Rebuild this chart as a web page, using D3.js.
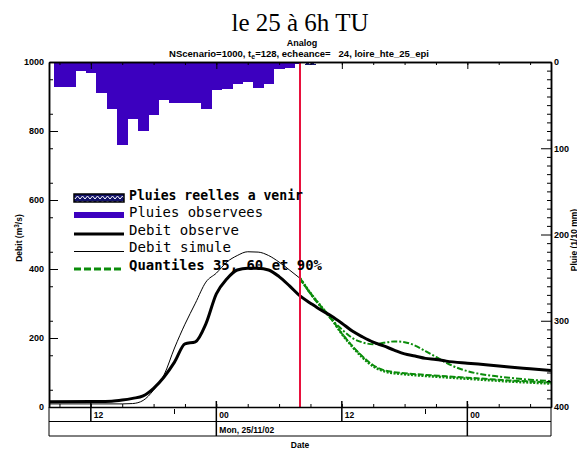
<!DOCTYPE html>
<html><head><meta charset="utf-8">
<script src="https://cdn.jsdelivr.net/npm/d3@7"></script>
<style>
body{margin:0;background:#fff}
svg{display:block}
text{font-family:"Liberation Sans",Arial,sans-serif}
.ax text{font-family:"Liberation Sans",Arial,sans-serif;font-weight:bold;font-size:9px;fill:#000}
.ax path,.ax line{stroke:#000}
</style>
</head><body>
<svg id="c" width="577" height="452"></svg>
<script>
// ---- data (time in hours since 24/11/02 00h) ----
const forecastHour = 32;
const rainHours  = [9,10,11,12,13,14,15,16,17,18,19,20,21,22,23,24,25,26,27,28,29,30,31,32];
const rainValues = [29,29,10,13,36,54,96,66,80,62,44,47,48,48,55,33,31,25,23,30,25,8,7,2];
const futureHours  = [33,55];
const futureValues = [3,1];
const obsHours  = [8,12,14,15,16,17,18,19,20,21,22,23,24,25,26,27,28,29,30,31,32,33,34,35,36,37,38,39,40,41,42,43,44,45,46,48,50,52,54,56];
const obsValues = [15,16,17,20,25,32,54,87,130,183,189,241,328,371,397,402,402,397,378,351,322,301,281,264,243,220,203,188,177,165,154,148,141,138,133,127,122,116,111,106];
const simHours  = [8,15,16,17,18,19,20,21,22,23,24,25,26,27,28,29,30,31,32];
const simValues = [9,9,10,19,49,93,171,240,301,362,388,420,439,450,449,439,420,397,373];
const q90Hours  = [32,33,34,35,36,37,38,39,40,41,42,43,44,45,46,47,48,50,52,54,56];
const q90Values = [373,328,290,254,225,200,187,182,186,190,188,178,162,145,128,114,104,92,85,79,75];
const qLowHours = [32,33,34,35,36,37,38,39,40,41,42,44,46,48,50,52,54,56];
const q35Values = [373,330,292,256,212,175,143,118,104,98,95,90,86,82,78,74,71,68];
const q60Values = [373,330,292,256,213,177,146,121,107,101,98,93,89,85,81,77,74,71];
const debitTicks = [0,200,400,600,800,1000];
const pluieTicks = [0,100,200,300,400];
const majorHours = [12,24,36,48];
const majorLabels = ["12","00","12","00"];
const dayHours = [24,48];
const dayLabel = "Mon, 25/11/02";
const midHours = [20,44];
const legendLabels = ["Pluies reelles a venir","Pluies observees","Debit observe","Debit simule","Quantiles 35, 60 et 90%"];

// ---- layout ----
const L=49,R=551,T=62,B=407;
const x  = d3.scaleLinear().domain([8,56]).range([L,R]);
const yL = d3.scaleLinear().domain([0,1000]).range([B,T]);
const yR = d3.scaleLinear().domain([0,400]).range([T,B]);
const svg = d3.select('#c');

svg.append('defs').html(`
 <clipPath id="clip"><rect x="${L}" y="${T}" width="${R-L}" height="${B-T}"/></clipPath>
 <pattern id="hatch" width="5" height="5" patternUnits="userSpaceOnUse">
   <rect width="5" height="5" fill="#14146a"/>
   <path d="M0,4 L2.5,1 L5,4" stroke="#fff" stroke-width="1" fill="none"/>
 </pattern>`);

// titles
svg.append('text').attr('x',300).attr('y',31).attr('text-anchor','middle')
  .style('font-family','"Liberation Serif","Times New Roman",serif').style('font-size','25px').text('le 25 à 6h TU');
svg.append('text').attr('x',302).attr('y',46).attr('text-anchor','middle')
  .style('font-weight','bold').style('font-size','9px').text('Analog');
const st = svg.append('text').attr('x',299).attr('y',56.5).attr('text-anchor','middle')
  .style('font-weight','bold').style('font-size','9.5px').style('white-space','pre');
st.append('tspan').text('NScenario=1000, t');
st.append('tspan').attr('dy',2).style('font-size','7px').text('e');
st.append('tspan').attr('dy',-2).text('=128, echeance=   24, loire_hte_25_epi');

// rain bars (hang from top, right axis)
const pg = svg.append('g').attr('clip-path','url(#clip)').attr('shape-rendering','crispEdges');
pg.selectAll('rect.r').data(rainHours.map((h,i)=>({h,v:rainValues[i]}))).join('rect')
  .attr('x',d=>x(d.h-0.5)).attr('width',d=>Math.min(x(d.h+0.5),x(forecastHour))-x(d.h-0.5)+0.5)
  .attr('y',T).attr('height',d=>yR(d.v)-T).attr('fill','#3c00bf');
pg.selectAll('rect.f').data(futureHours.map((h,i)=>({h,v:futureValues[i]}))).join('rect')
  .attr('x',d=>x(d.h-0.5)).attr('width',d=>x(d.h+0.5)-x(d.h-0.5))
  .attr('y',T).attr('height',d=>yR(d.v)-T).attr('fill','url(#hatch)');

// curves
const cg = svg.append('g').attr('clip-path','url(#clip)').attr('fill','none');
const line = (hs,vs)=>d3.line().x((d,i)=>x(hs[i])).y(d=>yL(d)).curve(d3.curveMonotoneX)(vs);
cg.append('path').attr('d',line(qLowHours,q35Values)).attr('stroke','#0a8c0a').attr('stroke-width',2.6).attr('stroke-dasharray','2,1.5');
cg.append('path').attr('d',line(qLowHours,q60Values)).attr('stroke','#0a8c0a').attr('stroke-width',2).attr('stroke-dasharray','6,2');
cg.append('path').attr('d',line(q90Hours,q90Values)).attr('stroke','#0a8c0a').attr('stroke-width',2).attr('stroke-dasharray','6,2,2,2');
cg.append('path').attr('d',line(simHours,simValues)).attr('stroke','#000').attr('stroke-width',1);
cg.append('path').attr('d',line(obsHours,obsValues)).attr('stroke','#000').attr('stroke-width',3);

// forecast line
svg.append('line').attr('x1',x(forecastHour)).attr('x2',x(forecastHour)).attr('y1',T).attr('y2',B)
  .attr('stroke','#e8103c').attr('stroke-width',2);

// left axis
const ga = svg.append('g').attr('class','ax').attr('transform',`translate(${L},0)`);
ga.call(d3.axisLeft(yL).tickValues(debitTicks).tickSizeInner(-9).tickSizeOuter(0).tickPadding(5).tickFormat(d3.format('d')));
svg.append('g').attr('class','ax').attr('transform',`translate(${L},0)`)
  .call(d3.axisLeft(yL).tickValues(d3.range(50,1000,100)).tickSizeInner(-4).tickSizeOuter(0).tickFormat(''));
// right axis
svg.append('g').attr('class','ax').attr('transform',`translate(${R},0)`)
  .call(d3.axisRight(yR).tickValues(pluieTicks).tickSizeInner(-10).tickSizeOuter(0).tickPadding(3).tickFormat(d3.format('d')));
svg.append('g').attr('class','ax').attr('transform',`translate(${R},0)`)
  .call(d3.axisRight(yR).tickValues(d3.range(10,400,10).filter(v=>v%100)).tickSizeInner(-4).tickSizeOuter(0).tickFormat(''));
svg.selectAll('.ax .domain').attr('stroke-width',1.2);

// top & bottom time axes
const minorHours = d3.range(9,56,3);
svg.append('g').attr('class','ax').attr('transform',`translate(0,${T})`)
  .call(d3.axisBottom(x).tickValues(minorHours).tickSizeInner(3).tickSizeOuter(0).tickFormat(''));
svg.append('g').attr('class','ax').attr('transform',`translate(0,${T})`)
  .call(d3.axisBottom(x).tickValues(majorHours).tickSizeInner(7).tickSizeOuter(0).tickFormat(''));
svg.append('g').attr('class','ax').attr('transform',`translate(0,${B})`)
  .call(d3.axisTop(x).tickValues(minorHours).tickSizeInner(3).tickSizeOuter(0).tickFormat(''));
svg.selectAll('.ax .domain').attr('stroke-width',1.5);

const fg = svg.append('g').attr('stroke','#000').attr('stroke-width',1);
fg.selectAll('line.mj').data(majorHours).join('line')
  .attr('x1',d=>x(d)).attr('x2',d=>x(d)).attr('y1',B-6)
  .attr('y2',d=>dayHours.includes(d)?436:421.5).attr('stroke-width',1.5);
fg.selectAll('line.md').data(midHours).join('line')
  .attr('x1',d=>x(d)).attr('x2',d=>x(d)).attr('y1',409).attr('y2',414);
fg.append('line').attr('x1',L).attr('x2',R).attr('y1',421.5).attr('y2',421.5);
fg.append('line').attr('x1',L).attr('x2',R).attr('y1',436).attr('y2',436);
fg.append('line').attr('x1',L).attr('x2',L).attr('y1',B).attr('y2',436);
fg.append('line').attr('x1',R).attr('x2',R).attr('y1',B).attr('y2',436);

svg.selectAll('text.xl').data(majorHours).join('text')
  .attr('x',d=>x(d)+3).attr('y',418).style('font-weight','bold').style('font-size','8.5px')
  .text((d,i)=>majorLabels[i]);
svg.append('text').attr('x',x(dayHours[0])+3).attr('y',432.5).style('font-weight','bold').style('font-size','8.5px').text(dayLabel);
svg.append('text').attr('x',300).attr('y',448).attr('text-anchor','middle').style('font-weight','bold').style('font-size','8.5px').text('Date');

// axis titles
const dl = svg.append('text').attr('transform','translate(22,238) rotate(-90)').attr('text-anchor','middle')
  .style('font-weight','bold').style('font-size','8.5px');
dl.append('tspan').text('Debit (m');
dl.append('tspan').attr('dy',-3).style('font-size','6.5px').text('3');
dl.append('tspan').attr('dy',3).text('/s)');
svg.append('text').attr('transform','translate(576.5,240) rotate(-90)').attr('text-anchor','middle')
  .style('font-weight','bold').style('font-size','8.5px').text('Pluie (1/10 mm)');

// legend
const lg = svg.append('g');
const lx0=74, lx1=124, tx=129;
const rowY=[200,217,235,252,270];
const widths=[174,134,110,102,193];
lg.append('rect').attr('x',lx0).attr('y',194).attr('width',lx1-lx0).attr('height',8)
  .attr('fill','url(#hatch)').attr('stroke','#000').attr('stroke-width',1.5);
lg.append('rect').attr('x',lx0).attr('y',212).attr('width',lx1-lx0).attr('height',6).attr('fill','#3c00bf');
lg.append('line').attr('x1',lx0).attr('x2',lx1).attr('y1',234).attr('y2',234).attr('stroke','#000').attr('stroke-width',3);
lg.append('line').attr('x1',lx0).attr('x2',lx1).attr('y1',251.5).attr('y2',251.5).attr('stroke','#000').attr('stroke-width',1);
lg.append('line').attr('x1',lx0).attr('x2',lx1).attr('y1',269).attr('y2',269).attr('stroke','#0a8c0a').attr('stroke-width',3).attr('stroke-dasharray','7,3');
lg.selectAll('text').data(legendLabels).join('text')
  .attr('x',tx).attr('y',(d,i)=>rowY[i])
  .attr('textLength',(d,i)=>widths[i]).attr('lengthAdjust','spacingAndGlyphs')
  .style('font-family','"DejaVu Sans Mono",monospace').style('font-size','14px')
  .style('font-weight',(d,i)=>(i===0||i===4)?'bold':'normal')
  .text(d=>d);
</script>
</body></html>
